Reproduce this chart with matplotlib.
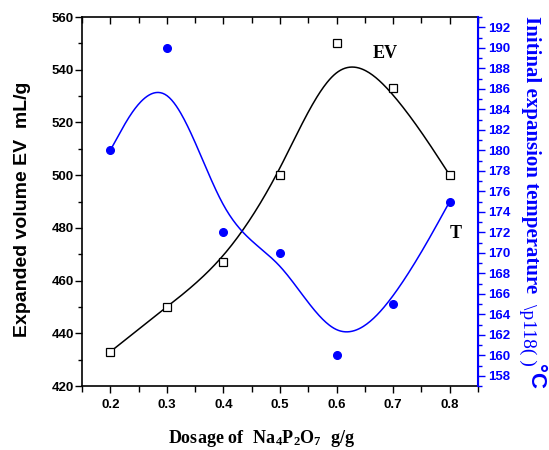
import numpy as np
import matplotlib
matplotlib.use("Agg")
import matplotlib.pyplot as plt
from matplotlib.ticker import MultipleLocator

plt.rcParams["mathtext.fontset"] = "custom"
plt.rcParams["mathtext.rm"] = "Liberation Serif:bold"
plt.rcParams["mathtext.bf"] = "Liberation Serif:bold"
plt.rcParams["mathtext.it"] = "Liberation Serif:bold"

# data
dosage = [0.2, 0.3, 0.4, 0.5, 0.6, 0.7, 0.8]
ev = [433, 450, 467, 500, 550, 533, 500]
temp = [180, 190, 172, 170, 160, 165, 175]


def bspline(xs, ys, n=400, k=3):
    # uniform cubic B-spline, data points as control points,
    # end points repeated so the curve starts/ends on them (Origin style)
    cx = np.array([xs[0]] * 2 + list(xs) + [xs[-1]] * 2, float)
    cy = np.array([ys[0]] * 2 + list(ys) + [ys[-1]] * 2, float)
    m = len(cx)
    knots = np.arange(m + k + 1).astype(float)
    t = np.linspace(knots[k], knots[m], n)
    t[-1] -= 1e-9

    def basis(i, p, t):
        if p == 0:
            return ((knots[i] <= t) & (t < knots[i + 1])).astype(float)
        a = (t - knots[i]) / (knots[i + p] - knots[i]) * basis(i, p - 1, t)
        b = (knots[i + p + 1] - t) / (knots[i + p + 1] - knots[i + 1]) * basis(i + 1, p - 1, t)
        return a + b

    B = np.array([basis(i, k, t) for i in range(m)])
    return cx @ B, cy @ B


fig = plt.figure(figsize=(5.49, 4.5), dpi=100)
ax = fig.add_axes([0.1494, 0.1422, 0.7213, 0.82])
ax2 = ax.twinx()

sx, sy = bspline(dosage, ev)
ax.plot(sx, sy, color="black", lw=1.1)
ax.plot(dosage, ev, ls="none", marker="s", ms=5.5, mfc="white", mec="black", mew=0.9)

tx, ty = bspline(dosage, temp)
ax2.plot(tx, ty, color="blue", lw=1.1)
ax2.plot(dosage, temp, ls="none", marker="o", ms=5.5, color="blue")

ax.set_xlim(0.15, 0.85)
ax.set_ylim(420, 560)
ax2.set_ylim(157, 193)

ax.xaxis.set_major_locator(MultipleLocator(0.1))
ax.xaxis.set_minor_locator(MultipleLocator(0.05))
ax.yaxis.set_major_locator(MultipleLocator(20))
ax.yaxis.set_minor_locator(MultipleLocator(10))
ax2.yaxis.set_major_locator(MultipleLocator(2))
ax2.yaxis.set_minor_locator(MultipleLocator(1))
ax.set_xticks([0.2, 0.3, 0.4, 0.5, 0.6, 0.7, 0.8])
ax.set_xticklabels(["0.2", "0.3", "0.4", "0.5", "0.6", "0.7", "0.8"],
                   family="Liberation Sans", weight="bold", size=9.5)
for lab in ax.get_yticklabels():
    lab.set(family="Liberation Sans", weight="bold", size=9.5)
for lab in ax2.get_yticklabels():
    lab.set(family="Liberation Sans", weight="bold", size=9.5, color="blue")

ax.tick_params(axis="x", which="major", direction="out", length=5, width=1, top=True, pad=4)
ax.tick_params(axis="x", which="minor", direction="out", length=4, width=1, top=True)
ax.tick_params(axis="x", which="both", labeltop=False)
ax.tick_params(axis="y", which="major", direction="out", length=5, width=1, pad=1)
ax.tick_params(axis="y", which="minor", direction="out", length=3, width=1)
ax2.tick_params(axis="y", which="major", direction="out", length=5, width=1, color="blue", pad=2)
ax2.tick_params(axis="y", which="minor", direction="out", length=3, width=1, color="blue")
# top ticks point into the plot
for tk in ax.xaxis.get_major_ticks() + ax.xaxis.get_minor_ticks():
    tk.tick2line.set_marker(3)

for s in ["left", "bottom", "top"]:
    ax.spines[s].set_linewidth(1.2)
ax2.spines["right"].set_color("blue")
ax2.spines["right"].set_linewidth(1.5)
for s in ["left", "bottom", "top"]:
    ax2.spines[s].set_visible(False)

ax.set_ylabel("Expanded volume EV  mL/g", family="Liberation Sans", weight="bold", size=14)
ax.yaxis.set_label_coords(-0.128, 0.48)
ax.set_xlabel(r"$\mathbf{Dosage\ of\ \ Na_4P_2O_7\ \ g/g}$", size=13)
ax.xaxis.set_label_coords(0.455, -0.115)

ax.text(0.664, 544.3, "EV", family="Liberation Serif", weight="bold", size=13)
ax.text(0.800, 476, "T", family="Liberation Serif", weight="bold", size=13)

fig.text(0.967, 0.965, "Initinal expansion temperature", rotation=270, va="top", ha="center",
         family="Liberation Serif", weight="bold", size=15, color="blue")
fig.text(0.962, 0.325, r"\p118( )", rotation=270, va="top", ha="center",
         family="Liberation Serif", size=14, color="blue")
fig.text(0.975, 0.19, "°C", rotation=270, va="top", ha="center",
         family="Liberation Sans", weight="bold", size=16, color="blue")

fig.savefig("out.png", dpi=100)
